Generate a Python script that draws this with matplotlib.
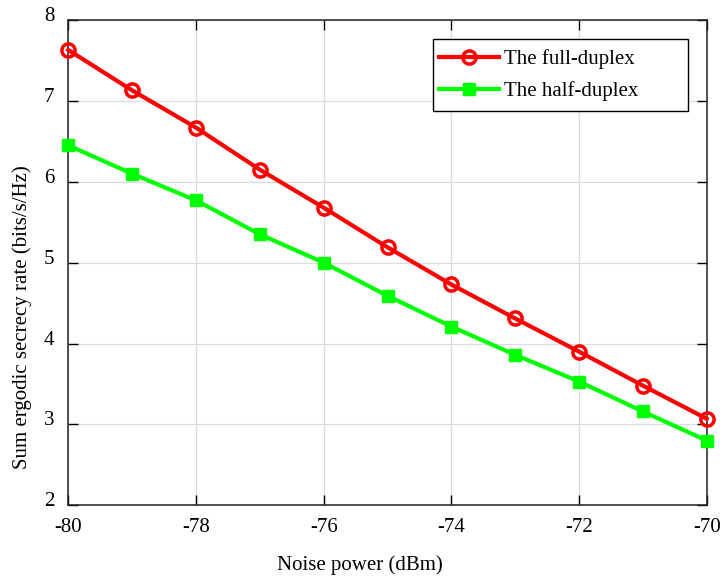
import matplotlib.pyplot as plt
import matplotlib.patches as mpatches
from matplotlib.transforms import ScaledTranslation

plt.rcParams['font.family'] = ['Liberation Serif', 'DejaVu Serif']

# data
noise_dbm = [-80, -79, -78, -77, -76, -75, -74, -73, -72, -71, -70]
full_duplex = [7.63, 7.13, 6.67, 6.15, 5.68, 5.19, 4.73, 4.31, 3.90, 3.48, 3.07]
half_duplex = [6.45, 6.10, 5.77, 5.35, 5.00, 4.59, 4.21, 3.86, 3.53, 3.16, 2.80]

fig = plt.figure(figsize=(7.28, 5.82), dpi=100)
ax = fig.add_axes([0.0938, 0.1318, 0.877, 0.8338])

ax.plot(noise_dbm, full_duplex, color='#ff0000', lw=3, marker='o', ms=9.5,
        mfc='none', mew=2.5, label='The full-duplex', clip_on=False, zorder=3)
ax.plot(noise_dbm, half_duplex, color='#00ff00', lw=3, marker='s', ms=9,
        mfc='#00ff00', mec='#00ff00', label='The half-duplex', clip_on=False,
        zorder=3)

ax.set_xlim(-80, -70)
ax.set_ylim(2, 8)
ax.set_xticks(range(-80, -69, 2))
ax.set_xticklabels([str(v) for v in range(-80, -69, 2)])
ax.set_yticks(range(2, 9))

ax.grid(True, color='#dcdcdc', lw=0.9)
ax.set_axisbelow(True)
ax.tick_params(direction='in', top=True, right=True, length=7, width=1,
               labelsize=15)
ax.tick_params(axis='x', pad=9)
ax.tick_params(axis='y', pad=10)
# y tick labels sit a little above their ticks in the original
shift = ScaledTranslation(0, 6 / 100, fig.dpi_scale_trans)
for lbl in ax.get_yticklabels():
    lbl.set_transform(lbl.get_transform() + shift)
for sp in ax.spines.values():
    sp.set_linewidth(1.1)
    sp.set_color('#222222')

ax.set_xlabel('Noise power (dBm)', fontsize=15)
ax.xaxis.set_label_coords(0.457, -0.102)
ax.set_ylabel('Sum ergodic secrecy rate (bits/s/Hz)', fontsize=15)
ax.yaxis.set_label_coords(-0.057, 0.388)

# legend frame is wider than its contents in the original
frame = mpatches.Rectangle((0.571, 0.812), 0.400, 0.149, transform=ax.transAxes,
                           facecolor='white', edgecolor='black', lw=1.0, zorder=4)
ax.add_patch(frame)
leg = ax.legend(loc='upper left', bbox_to_anchor=(0.581, 0.94), fontsize=15,
                frameon=False, handlelength=2.85, borderpad=0, borderaxespad=0,
                labelspacing=0.6, handletextpad=0.25)
leg.set_zorder(5)

fig.savefig('out.png', dpi=100)
